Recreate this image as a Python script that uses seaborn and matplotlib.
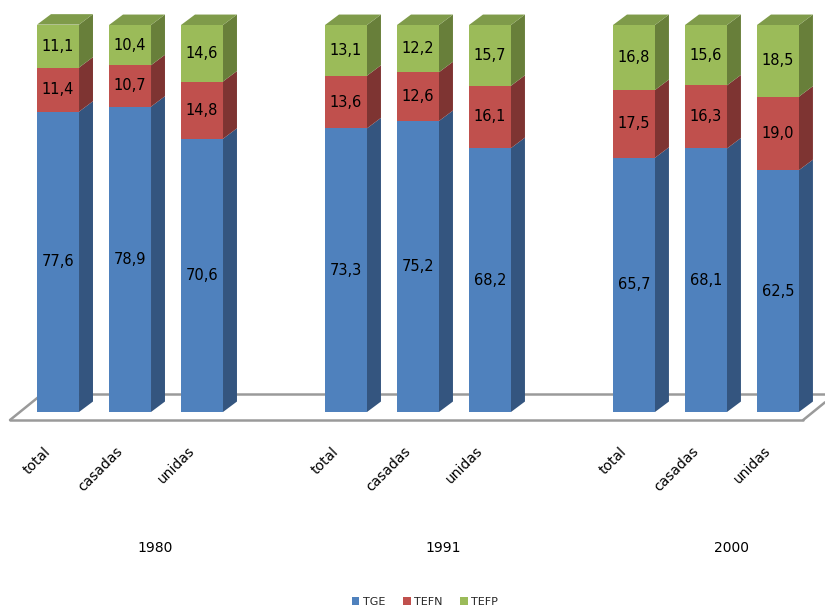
import matplotlib
matplotlib.use("Agg")
import matplotlib.pyplot as plt
from matplotlib.patches import Polygon, Patch
import seaborn as sns
import pandas as pd

# Data: share of fertility by union type (percent)
years = ["1980", "1991", "2000"]
categories = ["total", "casadas", "unidas"]
tge = [77.6, 78.9, 70.6, 73.3, 75.2, 68.2, 65.7, 68.1, 62.5]
tefn = [11.4, 10.7, 14.8, 13.6, 12.6, 16.1, 17.5, 16.3, 19.0]
tefp = [11.1, 10.4, 14.6, 13.1, 12.2, 15.7, 16.8, 15.6, 18.5]
series_names = ["TGE", "TEFN", "TEFP"]

front_colors = ["#4F81BD", "#C0504D", "#9BBB59"]
side_colors = ["#34557f", "#7e3432", "#687f3a"]
top_colors = ["#4470a6", "#a84543", "#7f9b4a"]

# Bar positions: three bars per year, one empty slot between years
positions = []
labels = []
for g, _ in enumerate(years):
    for i, c in enumerate(categories):
        positions.append(g * (len(categories) + 1) + i)
        labels.append(c)

df = pd.DataFrame({"pos": positions, "cat": labels,
                   "TGE": tge, "TEFN": tefn, "TEFP": tefp})
df["b0"] = 0.0
df["t0"] = df["TGE"]
df["b1"] = df["t0"]
df["t1"] = df["t0"] + df["TEFN"]
df["b2"] = df["t1"]
df["t2"] = df["t1"] + df["TEFP"]

sns.set_style("white")
fig = plt.figure(figsize=(8.25, 6.08), dpi=100)
ax = fig.add_axes([0, 0, 1, 1])
ax.set_xlim(-0.806, 10.653)
ax.set_ylim(-50.65, 106.46)
ax.axis("off")

bar_w = 0.583
dx, dy = 0.194, 2.7  # depth offset of the 3-D look

# Floor of the 3-D plot: back edge behind the bars
floor_col = "#9a9a9a"
ax.plot([-0.22, 10.653], [4.65, 4.65], color=floor_col, lw=1.8, zorder=0)
ax.plot([-0.667, -0.22], [-2.07, 4.65], color=floor_col, lw=1.8, zorder=0)

# Stacked front faces: draw cumulative tops from highest layer down
for k in (2, 1, 0):
    sns.barplot(data=df, x="pos", y=f"t{k}", native_scale=True, width=bar_w,
                color=front_colors[k], saturation=1, linewidth=0,
                errorbar=None, ax=ax, zorder=3)

# Side and top faces computed from each bar's extent
for _, r in df.iterrows():
    x0 = r["pos"] - bar_w / 2
    x1 = r["pos"] + bar_w / 2
    for k in range(3):
        b, t = r[f"b{k}"], r[f"t{k}"]
        ax.add_patch(Polygon([(x1, b), (x1 + dx, b + dy), (x1 + dx, t + dy), (x1, t)],
                             closed=True, facecolor=side_colors[k], edgecolor="none", zorder=2))
    t = r["t2"]
    ax.add_patch(Polygon([(x0, t), (x0 + dx, t + dy), (x1 + dx, t + dy), (x1, t)],
                         closed=True, facecolor=top_colors[2], edgecolor="none", zorder=2))
    # value labels on the front faces
    for k, name in enumerate(series_names):
        v = r[name]
        ax.text(r["pos"], r[f"b{k}"] + v / 2, f"{v:.1f}".replace(".", ","),
                ha="center", va="center", fontsize=10.5, color="black", zorder=5)

# Floor front edge
ax.plot([-0.667, 10.35], [-2.07, -2.07], color=floor_col, lw=1.8, zorder=4)
ax.plot([10.35, 10.653], [-2.07, 2.5], color=floor_col, lw=1.8, zorder=4)

# Category labels, rotated
for p, c in zip(df["pos"], df["cat"]):
    ax.text(p - 0.2, -8.3, c, rotation=45, rotation_mode="anchor",
            ha="right", va="top", fontsize=10, color="black")

# Year labels under each group
for g, y in enumerate(years):
    center = df["pos"].iloc[g * 3 + 1]
    ax.text(center + 0.35, -35.2, y, ha="center", va="center", fontsize=10, color="black")

handles = [Patch(facecolor=c, edgecolor="none") for c in front_colors]
fig.legend(handles, series_names, loc="center", bbox_to_anchor=(0.515, 0.01),
           ncol=3, frameon=False, fontsize=8, handlelength=0.7, handleheight=0.7,
           handletextpad=0.3, columnspacing=1.6)

fig.savefig("out.png", dpi=100)
